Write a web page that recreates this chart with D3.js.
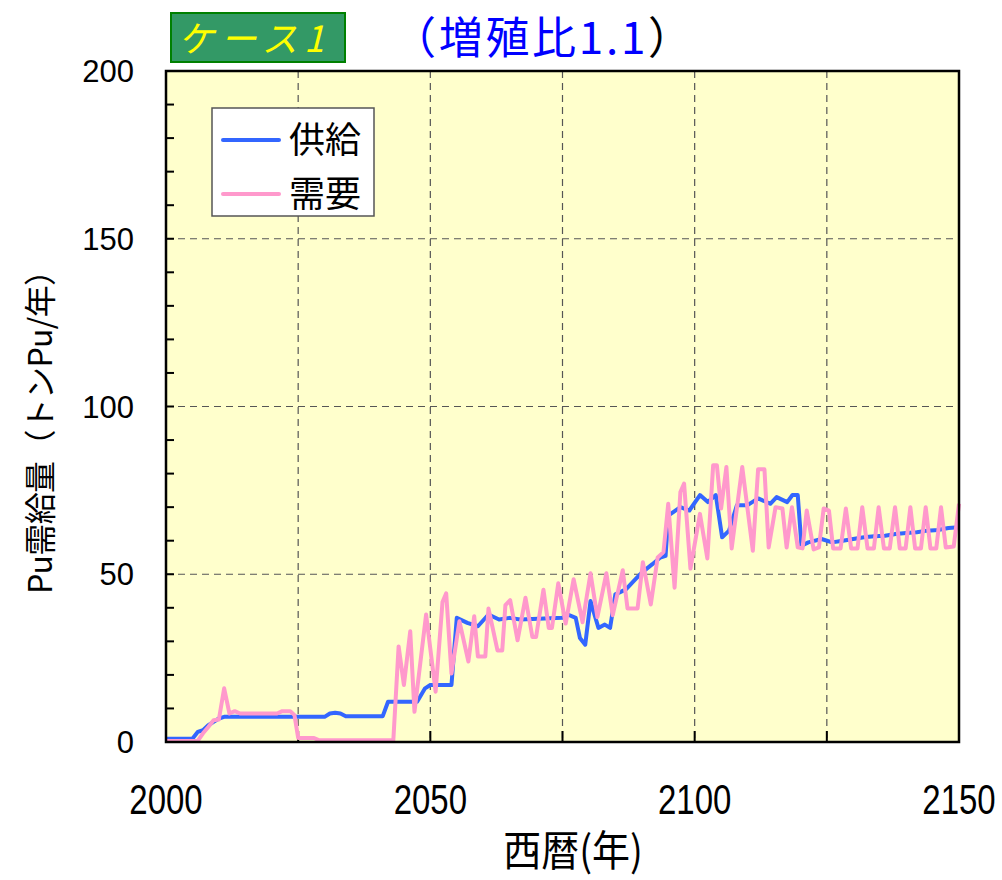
<!DOCTYPE html>
<html>
<head>
<meta charset="utf-8">
<script src="https://cdn.jsdelivr.net/npm/d3@7"></script>
<style>
  body { margin: 0; background: #fff; }
  text { font-family: "Liberation Sans", Arial, sans-serif; }
  .jp { font-family: "Noto Sans CJK JP", sans-serif; }
</style>
</head>
<body>
<script>
var width = 1002,
    height = 880;

// 供給 (supply)
var supplyYears = [2000, 2005, 2006, 2007, 2008, 2009, 2010, 2011, 2030, 2031, 2032, 2033, 2034, 2041, 2042,
  2047.5, 2049, 2050, 2054, 2055, 2057, 2059, 2061, 2063, 2065, 2067, 2075, 2076, 2077.5, 2078.3, 2079.3,
  2080.3, 2081.8, 2083, 2084, 2085, 2087, 2088.5, 2090, 2092, 2093.5, 2094.5, 2095, 2097.3, 2099, 2101,
  2102.5, 2104, 2105.2, 2106.5, 2108, 2110, 2112, 2114.3, 2115.5, 2117.5, 2118.5, 2119.5, 2120.2, 2121.5,
  2124, 2126, 2128, 2130, 2132, 2134, 2136, 2138, 2140, 2142, 2144, 2146, 2148, 2150];
var supplyValues = [1, 1, 3, 3.5, 5, 6, 7, 7.5, 7.5, 8.5, 8.7, 8.5, 7.7, 7.7, 12,
  12, 16, 17, 17, 37, 35.5, 34.5, 38, 36.5, 37, 36.5, 37, 38, 37, 31, 29,
  42, 34, 35, 34, 44, 45.5, 48, 50.5, 53, 55, 55.5, 67.5, 70, 69, 73.6,
  71.5, 73.6, 61, 63, 70.6, 70.6, 72.6, 71, 73, 71.5, 73.6, 73.6, 58.5, 59.5,
  60.5, 59.5, 60, 60.5, 61, 61.3, 61.5, 62, 62.3, 62.5, 63, 63.2, 63.8, 64];

// 需要 (demand)
var demandYears = [2000, 2006, 2007, 2008, 2009, 2010, 2011, 2012, 2013, 2014, 2021, 2022, 2023.5, 2024.3, 2025,
  2028, 2029, 2043, 2044, 2045, 2046.2, 2047, 2049.2, 2051, 2052.3, 2053, 2054, 2055.5, 2057.2, 2058.3,
  2059, 2060.4, 2061, 2062.7, 2063.6, 2064.2, 2065.1, 2066.5, 2068, 2069.3, 2070, 2071.4, 2072.4, 2073,
  2074.2, 2075.6, 2077.1, 2078.8, 2080.3, 2081.6, 2083.3, 2084.5, 2086.4, 2087.3, 2089.2, 2090.2, 2091.7,
  2093, 2094.1, 2095, 2096.2, 2097.3, 2098, 2099.2, 2101, 2102.4, 2103.5, 2104.2, 2105, 2106, 2107, 2109,
  2111, 2112, 2113.2, 2114, 2115.3, 2116.6, 2117.4, 2118.4, 2119.5, 2120.4, 2121.2, 2122.5, 2123.5, 2124.4,
  2125.4, 2126.2, 2127.6, 2128.6, 2129.6, 2130.8, 2131.7, 2132.7, 2133.9, 2134.8, 2135.8, 2136.9, 2137.9,
  2138.8, 2139.9, 2140.8, 2141.7, 2142.8, 2143.7, 2144.6, 2145.7, 2146.6, 2147.5, 2149, 2150];
var demandValues = [0.3, 0.3, 2.6, 4.5, 6.5, 6.7, 16, 8.5, 9.2, 8.5, 8.5, 9.2, 9.2, 8, 1.2,
  1.2, 0.5, 0.5, 28.5, 17, 33, 9, 38, 15, 41.7, 44.3, 20.4, 36, 24, 37.5,
  25.5, 25.5, 39.8, 27.3, 27.3, 40.8, 42.3, 30.3, 43, 31.3, 31.3, 45.4, 34, 34,
  47.3, 35.3, 48.5, 35.7, 50.3, 37.2, 50.3, 37.8, 51.2, 39.8, 39.8, 53.6, 41,
  55, 56.6, 71, 46, 74.5, 77, 51.7, 68, 54.7, 82.5, 82.5, 69.6, 82, 57.7, 82,
  57, 81.3, 81.3, 58, 70, 69.6, 58, 70, 58, 57.7, 69, 57.4, 58, 69.6,
  69, 57.7, 57.7, 69.6, 57.7, 57.7, 70, 57.7, 57.7, 70, 57.7, 57.7, 70,
  57.7, 57.7, 70, 57.7, 57.7, 70, 57.7, 57.7, 70, 58, 58.3, 71];

var yTicks = [0, 50, 100, 150, 200],
    yMinorTicks = d3.range(0, 201, 10),
    xTicks = [2000, 2050, 2100, 2150],
    xGrid = [2025, 2050, 2075, 2100, 2125];

var x = d3.scaleLinear().domain([2000, 2150]).range([166, 959]),
    y = d3.scaleLinear().domain([0, 200]).range([742, 71]);

var svg = d3.select("body").append("svg")
    .attr("width", width)
    .attr("height", height);

// plot background
svg.append("rect")
    .attr("x", x(2000)).attr("y", y(200))
    .attr("width", x(2150) - x(2000)).attr("height", y(0) - y(200))
    .attr("fill", "#ffffcc");

// grid
svg.selectAll(".vgrid")
    .data(xGrid)
  .enter().append("line")
    .attr("x1", (d) => x(d)).attr("x2", (d) => x(d))
    .attr("y1", y(200)).attr("y2", y(0))
    .attr("stroke", "#555").attr("stroke-width", 1.2)
    .attr("stroke-dasharray", "7,5");

svg.selectAll(".hgrid")
    .data([50, 100, 150])
  .enter().append("line")
    .attr("x1", x(2000)).attr("x2", x(2150))
    .attr("y1", (d) => y(d)).attr("y2", (d) => y(d))
    .attr("stroke", "#555").attr("stroke-width", 1.2)
    .attr("stroke-dasharray", "7,5");

// inward ticks
svg.selectAll(".ytick")
    .data(yMinorTicks)
  .enter().append("line")
    .attr("x1", x(2000)).attr("x2", x(2000) + 8)
    .attr("y1", (d) => y(d)).attr("y2", (d) => y(d))
    .attr("stroke", "#000").attr("stroke-width", 2);

svg.selectAll(".xtick")
    .data(xGrid)
  .enter().append("line")
    .attr("x1", (d) => x(d)).attr("x2", (d) => x(d))
    .attr("y1", y(0)).attr("y2", y(0) - 11)
    .attr("stroke", "#000").attr("stroke-width", 2);

// series
var line = d3.line()
    .x((d) => x(d[0]))
    .y((d) => y(d[1]));

svg.append("path")
    .datum(d3.zip(supplyYears, supplyValues))
    .attr("d", line)
    .attr("fill", "none")
    .attr("stroke", "#3366ff")
    .attr("stroke-width", 4)
    .attr("stroke-linejoin", "round");

svg.append("path")
    .datum(d3.zip(demandYears, demandValues))
    .attr("d", line)
    .attr("fill", "none")
    .attr("stroke", "#ff99cc")
    .attr("stroke-width", 4)
    .attr("stroke-linejoin", "round");

// frame
svg.append("rect")
    .attr("x", x(2000)).attr("y", y(200))
    .attr("width", x(2150) - x(2000)).attr("height", y(0) - y(200))
    .attr("fill", "none")
    .attr("stroke", "#000").attr("stroke-width", 2.5);

// tick labels
svg.selectAll(".ylabel")
    .data(yTicks)
  .enter().append("text")
    .attr("x", 134)
    .attr("y", (d) => y(d) + 11)
    .attr("text-anchor", "end")
    .style("font-size", "31px")
    .text((d) => d);

svg.selectAll(".xlabel")
    .data(xTicks)
  .enter().append("text")
    .attr("transform", (d) => `translate(${x(d)},814) scale(1,1.3)`)
    .attr("text-anchor", "middle")
    .style("font-size", "33px")
    .text((d) => d);

// axis titles
svg.append("text")
    .attr("class", "jp")
    .attr("transform", "translate(573,866) scale(1,1.1)")
    .attr("text-anchor", "middle")
    .style("font-size", "38px")
    .text("西暦(年)");

svg.append("text")
    .attr("class", "jp")
    .attr("transform", "translate(52,424) rotate(-90)")
    .attr("text-anchor", "middle")
    .attr("textLength", 340)
    .style("font-size", "32px")
    .text("Pu需給量（トンPu/年）");

// legend
var legend = svg.append("g");
legend.append("rect")
    .attr("x", 212).attr("y", 108)
    .attr("width", 162).attr("height", 108)
    .attr("fill", "#fff")
    .attr("stroke", "#555").attr("stroke-width", 1.5);

[["供給", "#3366ff", 140], ["需要", "#ff99cc", 194]].forEach((d) => {
  legend.append("line")
      .attr("x1", 223).attr("x2", 279)
      .attr("y1", d[2]).attr("y2", d[2])
      .attr("stroke", d[1]).attr("stroke-width", 4)
      .attr("stroke-linecap", "round");
  legend.append("text")
      .attr("class", "jp")
      .attr("x", 289).attr("y", d[2] + 13)
      .style("font-size", "36px")
      .text(d[0]);
});

// title
svg.append("rect")
    .attr("x", 171).attr("y", 13)
    .attr("width", 174).attr("height", 49)
    .attr("fill", "#339966")
    .attr("stroke", "#008000").attr("stroke-width", 2);

svg.append("text")
    .attr("class", "jp")
    .attr("x", 178).attr("y", 52)
    .attr("textLength", 146)
    .style("font-size", "36px")
    .style("font-style", "italic")
    .attr("fill", "#ffff00")
    .text("ケース1");

var title = svg.append("text")
    .attr("class", "jp")
    .attr("x", 392).attr("y", 54)
    .attr("textLength", 300)
    .style("font-size", "44px");
title.append("tspan").attr("fill", "#0000ff").text("（増殖比1.1");
title.append("tspan").attr("fill", "#000").text("）");
</script>
</body>
</html>
